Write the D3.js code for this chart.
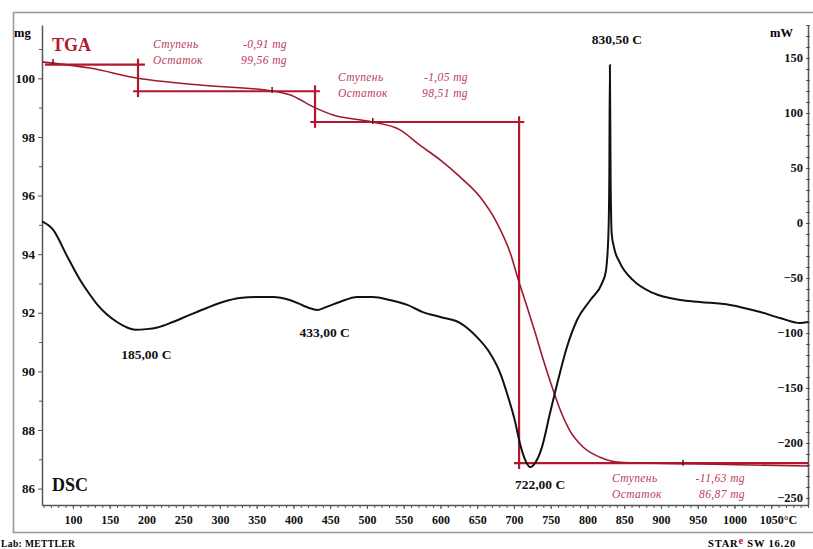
<!DOCTYPE html>
<html>
<head>
<meta charset="utf-8">
<script src="https://cdn.jsdelivr.net/npm/d3@7"></script>
<style>
  body { margin: 0; background: #fff; }
  svg { display: block; }
  text { font-family: "Liberation Serif", "Times New Roman", serif; }
</style>
</head>
<body>
<svg id="chart" width="813" height="549"></svg>
<script>
// ---- data ----
// DSC (black), temperature in °C and heat flow in mW
const dscT  = [58, 73, 92, 110, 123, 133, 146, 160, 172, 185, 200, 215, 236, 259, 282, 304, 327, 350, 372, 395, 413, 425, 433, 446, 463, 487, 508, 531, 555, 576, 600, 627, 650, 667, 681, 692, 701, 708, 715, 722, 729, 738, 749, 760, 772, 786, 804, 820, 825, 828.5, 829.7, 830.5, 831.5, 833, 836, 844, 862, 889, 926, 953, 994, 1035, 1062, 1089, 1100];
const dscMw = [1.5, -6, -30, -52, -65, -74, -83, -90, -94.5, -97, -96.5, -95, -90, -83.6, -77.3, -71.8, -68.2, -67.3, -67.3, -70, -75, -78, -79, -76, -71.8, -67.3, -67.3, -70, -74.5, -81, -85.5, -91, -104, -118, -136, -158, -179, -200, -215, -222, -218, -204, -173, -143, -113, -88, -70, -54.5, -44, -10, 40, 143.6, 40, -10, -22, -36, -52, -63.6, -70, -71.8, -74.5, -81, -86.4, -91, -90];

// TGA (red), temperature in °C and mass in mg
const tgaT  = [58, 73, 123, 189, 273, 371, 395, 429, 454, 508, 545, 572, 600, 627, 654, 677, 695, 706, 718, 729, 740, 752, 763, 776, 794, 817, 844, 889, 953, 1100];
const tgaMg = [100.56, 100.52, 100.35, 100.0, 99.77, 99.57, 99.44, 99.0, 98.75, 98.51, 98.24, 97.72, 97.21, 96.63, 95.95, 95.06, 94.04, 93.12, 92.19, 91.31, 90.39, 89.46, 88.68, 87.98, 87.42, 87.07, 86.90, 86.87, 86.84, 86.77];

// TGA step evaluation: mass levels and the temperatures of the step lines
const stepLevels = [100.47, 99.56, 98.51, 86.87];
const stepStart  = [62, 182, 423, 700];     // start of each horizontal level line
const stepEnd    = [198, 436, 714, 1100];   // end of each horizontal level line
const stepAt     = [188.6, 429.4, 707];     // vertical drop lines
const stepMarks  = [73, 371, 508, 930];     // little limit marks on the curve

const stepLabel = ["Ступень", "Остаток"];
const stepDelta = ["-0,91 mg", "-1,05 mg", "-11,63 mg"];
const stepRest  = ["99,56 mg", "98,51 mg", "86,87 mg"];

// peak labels
const peakT    = [185, 433, 722, 830.5];
const peakText = ["185,00 C", "433,00 C", "722,00 C", "830,50 C"];

// ticks
const xTicks   = d3.range(100, 1051, 50);
const xMinor   = d3.range(60, 1101, 10);
const mgTicks  = [86, 88, 90, 92, 94, 96, 98, 100];
const mgMinor  = [87, 89, 91, 93, 95, 97, 99, 101];
const mwTicks  = [-250, -200, -150, -100, -50, 0, 50, 100, 150];
const mwMinor  = d3.range(-250, 181, 10);

// ---- layout ----
const svg = d3.select("#chart");
const plotL = 42, plotR = 808, plotT = 25, plotB = 505;

const red = "#b3172c";
const noteRed = "#b8405a";

const x = d3.scaleLinear().domain([58, 1100]).range([plotL, plotR]);
const yMg = d3.scaleLinear().domain([85.44, 101.82]).range([plotB, plotT]);
const yMw = d3.scaleLinear().domain([-256.4, 180]).range([plotB, plotT]);

// outer frame
svg.append("rect")
  .attr("x", 13.5).attr("y", 12.5)
  .attr("width", 820).attr("height", 520)
  .attr("fill", "none").attr("stroke", "#9a9a9a").attr("stroke-width", 1.6);

// left mg axis
const gL = svg.append("g").attr("transform", `translate(${plotL},0)`);
gL.call(d3.axisLeft(yMg).tickValues(mgTicks).tickSize(4).tickSizeOuter(0).tickPadding(3).tickFormat(d3.format("d")));
const gLm = gL.append("g").call(d3.axisLeft(yMg).tickValues(mgMinor).tickSize(3).tickFormat(""));
gLm.select(".domain").remove();
gLm.selectAll("text").remove();

// bottom temperature axis
const gB = svg.append("g").attr("transform", `translate(0,${plotB})`);
gB.call(d3.axisBottom(x).tickValues(xTicks).tickSize(4).tickSizeOuter(0).tickPadding(6).tickFormat(d3.format("d")));
gB.selectAll(".tick text").filter(d => d === 1050)
  .attr("text-anchor", "start").attr("x", -12).text("1050°C");
const gBm = gB.append("g").call(d3.axisBottom(x).tickValues(xMinor).tickSize(3).tickFormat(""));
gBm.select(".domain").remove();
gBm.selectAll("text").remove();

// right mW axis (labels sit inside the plot)
const gR = svg.append("g").attr("transform", `translate(${plotR},0)`);
gR.call(d3.axisLeft(yMw).tickValues(mwTicks).tickSize(0).tickSizeOuter(0).tickPadding(5).tickFormat(d3.format("d")));
[d3.axisRight, d3.axisLeft].forEach(ax => {
  const m = gR.append("g").call(ax(yMw).tickValues(mwMinor).tickSize(2).tickFormat(""));
  m.select(".domain").remove();
  m.selectAll("text").remove();
});

svg.selectAll(".domain").attr("stroke", "#555").attr("stroke-width", 1.5);
svg.selectAll(".tick line").attr("stroke", "#555");
svg.selectAll(".tick text")
  .attr("font-family", "Liberation Serif, serif")
  .attr("font-weight", "bold")
  .attr("fill", "#111");
gL.selectAll(".tick text").attr("font-size", 13);
gR.selectAll(".tick text").attr("font-size", 12.5);
gB.selectAll(".tick text").attr("font-size", 12);

// units and titles
svg.append("text").attr("x", 14).attr("y", 37).attr("font-size", 12.5).attr("font-weight", "bold").text("mg");
svg.append("text").attr("x", 770).attr("y", 37).attr("font-size", 12.5).attr("font-weight", "bold").text("mW");
svg.append("text").attr("x", 52).attr("y", 51).attr("font-size", 18).attr("font-weight", "bold").attr("fill", red).text("TGA");
svg.append("text").attr("x", 52).attr("y", 491).attr("font-size", 18).attr("font-weight", "bold").attr("fill", "#111").text("DSC");

// TGA step lines
const steps = svg.append("g").attr("stroke", red).attr("stroke-width", 2.2).attr("fill", "none");
stepLevels.forEach((lv, i) => {
  steps.append("line")
    .attr("x1", x(stepStart[i])).attr("x2", x(stepEnd[i]))
    .attr("y1", yMg(lv)).attr("y2", yMg(lv));
});
stepAt.forEach((t, i) => {
  steps.append("line")
    .attr("x1", x(t)).attr("x2", x(t))
    .attr("y1", yMg(stepLevels[i] + 0.2)).attr("y2", yMg(stepLevels[i + 1] - 0.2));
});

// TGA curve
const tgaLine = d3.line().x(d => x(d[0])).y(d => yMg(d[1])).curve(d3.curveMonotoneX);
svg.append("path")
  .datum(d3.zip(tgaT, tgaMg))
  .attr("d", tgaLine)
  .attr("fill", "none").attr("stroke", "#a0182c").attr("stroke-width", 1.6);

const tgaAt = d3.scaleLinear().domain(tgaT).range(tgaMg);
svg.append("g").selectAll("line").data(stepMarks).join("line")
  .attr("x1", d => x(d)).attr("x2", d => x(d))
  .attr("y1", d => yMg(tgaAt(d)) - 4).attr("y2", d => yMg(tgaAt(d)) + 2)
  .attr("stroke", "#6b1020").attr("stroke-width", 1.5);

// DSC curve
const dscLine = d3.line().x(d => x(d[0])).y(d => yMw(d[1])).curve(d3.curveMonotoneX);
svg.append("path")
  .datum(d3.zip(dscT, dscMw))
  .attr("d", dscLine)
  .attr("fill", "none").attr("stroke", "#111").attr("stroke-width", 2);

// step annotations
const notePos = [
  { x1: 153, x2: 287, y: 48 },
  { x1: 338, x2: 468, y: 81 },
  { x1: 612, x2: 745, y: 482 }
];
notePos.forEach((p, i) => {
  const g = svg.append("g").attr("fill", noteRed).attr("font-style", "italic")
    .attr("font-size", 11.5).attr("letter-spacing", 0.4);
  g.append("text").attr("x", p.x1).attr("y", p.y).text(stepLabel[0]);
  g.append("text").attr("x", p.x2).attr("y", p.y).attr("text-anchor", "end").text(stepDelta[i]);
  g.append("text").attr("x", p.x1).attr("y", p.y + 16).text(stepLabel[1]);
  g.append("text").attr("x", p.x2).attr("y", p.y + 16).attr("text-anchor", "end").text(stepRest[i]);
});

// peak labels
const peakY  = [359, 337, 489, 44];
const peakDx = [11, 7, 10, 7];
svg.append("g").selectAll("text").data(peakT).join("text")
  .attr("x", (d, i) => x(d) + peakDx[i])
  .attr("y", (d, i) => peakY[i])
  .attr("text-anchor", "middle")
  .attr("font-size", 13.5).attr("font-weight", "bold").attr("fill", "#111")
  .text((d, i) => peakText[i]);

// footer
svg.append("text").attr("x", 1).attr("y", 547).attr("font-size", 9.5).attr("letter-spacing", 0.4)
  .attr("font-weight", "bold").attr("font-family", "Liberation Sans, sans-serif").text("Lab: METTLER");
const star = svg.append("text").attr("x", 708).attr("y", 547).attr("font-size", 10.5).attr("letter-spacing", 0.8)
  .attr("font-weight", "bold").attr("font-family", "Liberation Sans, sans-serif");
star.append("tspan").text("STAR");
star.append("tspan").attr("fill", red).attr("dy", -3).text("e");
star.append("tspan").attr("dy", 3).text(" SW 16.20");
</script>
</body>
</html>
